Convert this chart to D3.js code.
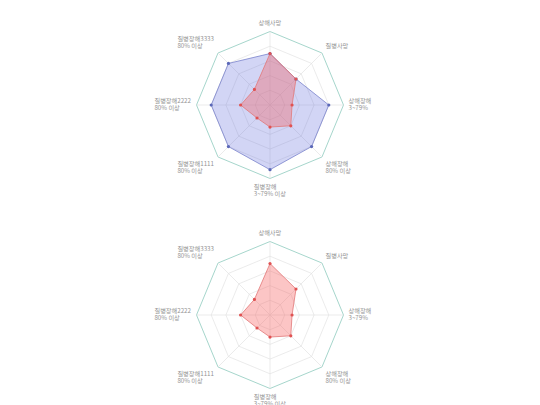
<!DOCTYPE html>
<html>
<head>
<meta charset="utf-8">
<script src="https://cdn.jsdelivr.net/npm/d3@7"></script>
<style>
  body { margin: 0; background: #fff; }
  svg { display: block; }
</style>
</head>
<body>
<script>
// axis names (line breaks split the label in two lines)
const axes = ["상해사망", "질병사망", "상해장해\n3~79%", "상해장해\n80% 이상",
              "질병장해\n3~79% 이상", "질병장해1111\n80% 이상",
              "질병장해2222\n80% 이상", "질병장해3333\n80% 이상"];
const seriesA = [70, 50, 80, 80, 88, 80, 80, 80];   // blue
const seriesB = [70, 50, 30, 40, 30, 25, 40, 30];   // red
const maxValue = 100;
const levels = 5;

const width = 540, height = 405, chartHeight = 210;
const radius = chartHeight * 0.35;

const svg = d3.select("body").append("svg")
  .attr("width", width)
  .attr("height", height);

const r = d3.scaleLinear().domain([0, maxValue]).range([0, radius]);
const angle = d3.scaleLinear().domain([0, axes.length]).range([0, 2 * Math.PI]);

const colors = {
  a: {fill: "rgba(95,105,220,0.28)", stroke: "#7a83cc", point: "#5b68b8"},
  b: {fill: "rgba(245,90,90,0.35)", stroke: "#e27777", point: "#e05252"}
};

function drawRadar(g, series) {
  // grid rings
  for (let l = 1; l <= levels; l++) {
    const pts = axes.map((d, i) => d3.pointRadial(angle(i), r(maxValue * l / levels)));
    g.append("polygon")
      .attr("points", pts.map(p => p.join(",")).join(" "))
      .attr("fill", "none")
      .attr("stroke", l == levels ? "#a6d6cc" : "#e3e3e3")
      .attr("stroke-width", l == levels ? 1 : 0.7);
  }

  // spokes
  g.selectAll(".spoke")
    .data(axes)
    .join("line")
      .attr("class", "spoke")
      .attr("x1", 0).attr("y1", 0)
      .attr("x2", (d, i) => d3.pointRadial(angle(i), r(maxValue))[0])
      .attr("y2", (d, i) => d3.pointRadial(angle(i), r(maxValue))[1])
      .attr("stroke", "#e3e3e3")
      .attr("stroke-width", 0.7);

  const line = d3.lineRadial()
    .angle((d, i) => angle(i))
    .radius(d => r(d))
    .curve(d3.curveLinearClosed);

  series.forEach(function(s) {
    g.append("path")
      .attr("d", line(s.values))
      .attr("fill", s.color.fill)
      .attr("stroke", s.color.stroke)
      .attr("stroke-width", 0.8);
  });

  series.forEach(function(s) {
    g.append("g")
      .selectAll("circle")
      .data(s.values)
      .join("circle")
        .attr("cx", (d, i) => d3.pointRadial(angle(i), r(d))[0])
        .attr("cy", (d, i) => d3.pointRadial(angle(i), r(d))[1])
        .attr("r", 1.6)
        .attr("fill", s.color.point);
  });

  // axis names
  const gap = 5, fontSize = 6.2, lineH = 7.2;
  axes.forEach(function(name, i) {
    const a = angle(i),
          sx = Math.sin(a), cy = -Math.cos(a);
    const [px, py] = d3.pointRadial(a, radius + gap);
    const lines = name.split("\n");
    const text = g.append("text")
      .style("font", `${fontSize}px "Noto Sans CJK KR", sans-serif`)
      .attr("fill", "#939393");
    lines.forEach(function(t, k) {
      text.append("tspan").attr("x", 0).attr("dy", k == 0 ? 0 : lineH).text(t);
    });
    const bb = text.node().getBBox();
    const blockH = lines.length * lineH;
    let x0;
    if (sx > 0.01) x0 = px;
    else if (sx < -0.01) x0 = px - bb.width;
    else x0 = px - bb.width / 2;
    let top;
    if (cy < -0.01) top = py - blockH;
    else if (cy > 0.01) top = py;
    else top = py - blockH / 2;
    text.selectAll("tspan").attr("x", x0);
    text.attr("y", top + lineH * 0.75);
    text.select("tspan").attr("y", top + lineH * 0.75);
  });
}

const top1 = svg.append("g")
  .attr("transform", `translate(${width / 2},${chartHeight / 2})`);
drawRadar(top1, [{values: seriesA, color: colors.a}, {values: seriesB, color: colors.b}]);

const top2 = svg.append("g")
  .attr("transform", `translate(${width / 2},${chartHeight + chartHeight / 2})`);
drawRadar(top2, [{values: seriesB, color: colors.b}]);
</script>
</body>
</html>
